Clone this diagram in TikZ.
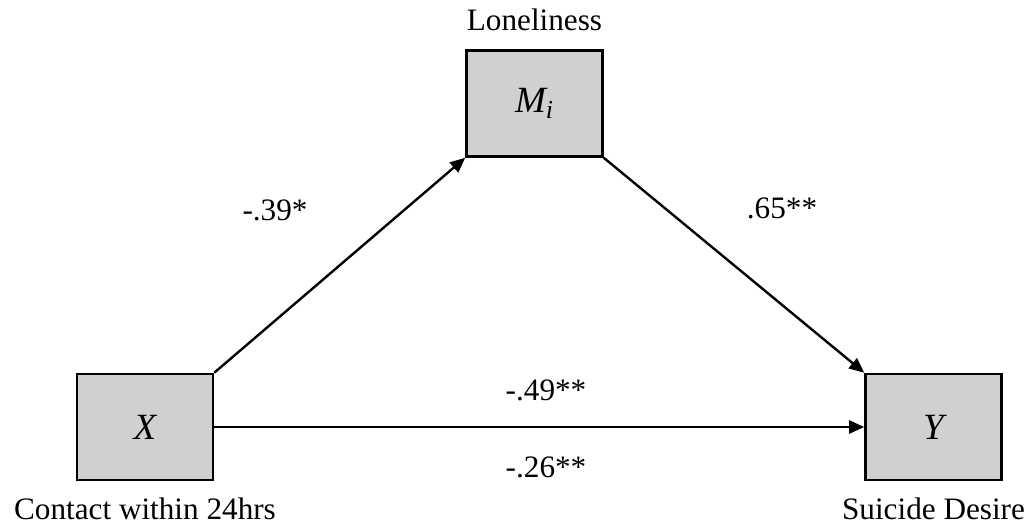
\documentclass[tikz,border=0pt]{standalone}
\usepackage{fontspec}
\setmainfont{Liberation Serif}
\usepackage{xcolor}
\usetikzlibrary{arrows.meta,positioning}
\definecolor{boxgray}{HTML}{D1CFD1}

\begin{document}
\begin{tikzpicture}[
  x=0.5pt, y=-0.5pt,
  font=\fontsize{15.6}{18}\selectfont,
  varbox/.style={rectangle, draw=black, fill=boxgray, line width=1.3pt, minimum width=68pt, minimum height=53pt, inner sep=0pt, font=\fontsize{18.5}{22}\selectfont\itshape},
  caption/.style={inner sep=1pt},
  coef/.style={inner sep=1pt},
  arrow/.style={-{Triangle[length=7.5pt,width=6.5pt]}, line width=1.2pt}
]
\useasboundingbox (0,0) rectangle (1036,529);

% variables
\node[varbox] (X) at (145,427) {X};
\node[varbox] (M) at (534.5,103.5) {M\textsubscript{i}};
\node[varbox] (Y) at (933.5,427) {Y};

\node[caption, above=8pt of M] (mLabel) {Loneliness};
\node[caption, below=7pt of X] (xLabel) {Contact within 24hrs};
\node[caption, below=7pt of Y] (yLabel) {Suicide Desire};

% paths
\draw[arrow] (X.north east) -- (M.south west);
\draw[arrow] (M.south east) -- (Y.north west);
\draw[arrow] (X.east) -- (Y.west);

\node[coef] (aPath) at (275,210) {-.39*};
\node[coef] (bPath) at (782,208) {.65**};
\node[coef] (cPath) at (546,390) {-.49**};
\node[coef] (cPrime) at (546,467) {-.26**};
\end{tikzpicture}
\end{document}
